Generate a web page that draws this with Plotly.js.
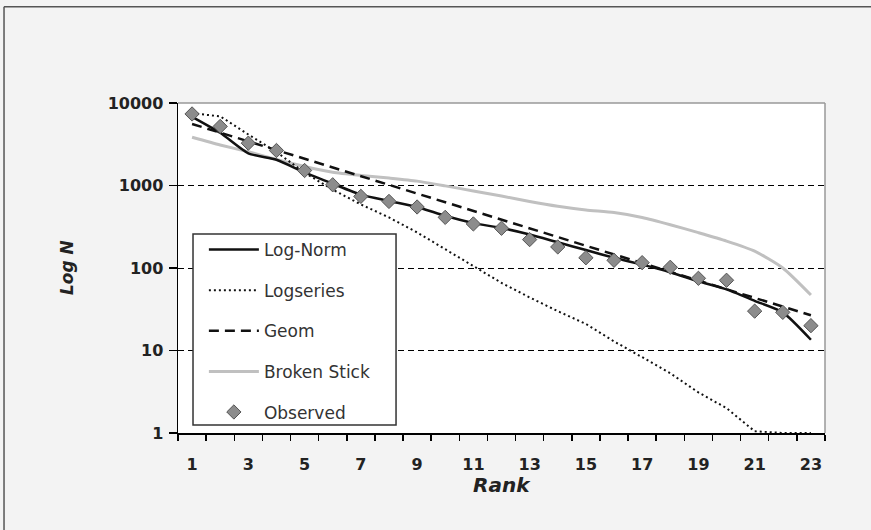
<!DOCTYPE html>
<html><head><meta charset="utf-8">
<script src="https://cdn.plot.ly/plotly-3.0.1.min.js"></script>
<style>html,body{margin:0;padding:0;background:#f3f3f3;} #chart{width:871px;height:530px;}</style>
</head><body><div id="chart"></div>
<script>
const ranks = [1,2,3,4,5,6,7,8,9,10,11,12,13,14,15,16,17,18,19,20,21,22,23];
const observed = [7365,5200,3260,2655,1520,1020,738,641,549,411,342,303,221,180,133,124,116,102,75,71,30,29,20];
const logNorm = [6800,4350,2450,2050,1440,1050,775,650,550,430,350,305,255,205,165,133,110,89,69,55,40,29,13.5];
const logSeries = [7500,6900,4150,2550,1430,890,590,410,270,170,105,66,44,30,21,12.9,8.3,5.3,3.1,2.0,1.05,1,1];
const geom = [5570,4370,3430,2690,2110,1655,1300,1020,800,627,491,385,302,237,186,146,114,90,70,55,43,34,26.7];
const brokenStick = [3850,3100,2560,2070,1700,1450,1325,1230,1130,990,860,745,640,560,505,470,410,335,268,212,160,100,47];
const seriesNames = ['Log-Norm','Logseries','Geom','Broken Stick','Observed'];
const xTickVals = [1,3,5,7,9,11,13,15,17,19,21,23];
const xTickText = ['1','3','5','7','9','11','13','15','17','19','21','23'];
const yTickVals = [1,10,100,1000,10000];
const yTickText = ['1','10','100','1000','10000'];

const FONT = 'DejaVu Sans, Verdana, sans-serif';
function lineTrace(y, name, line, i) {
  return {x: ranks, y: y, name: name, type: 'scatter', mode: 'lines', line: line,
          legendgroup: 'g' + i, hoverinfo: 'x+y+name'};
}
const traces = [
  lineTrace(brokenStick, seriesNames[3], {color: '#c0c0c0', width: 3, shape: 'spline', smoothing: 0.6}, 3),
  lineTrace(logSeries, seriesNames[1], {color: '#111', width: 2, dash: '2px,3px'}, 1),
  lineTrace(geom, seriesNames[2], {color: '#111', width: 2.5, dash: '10px,6px'}, 2),
  lineTrace(logNorm, seriesNames[0], {color: '#111', width: 2.5, shape: 'spline', smoothing: 0.6}, 0),
  {x: ranks, y: observed, name: seriesNames[4], type: 'scatter', mode: 'markers', legendgroup: 'g4',
   marker: {symbol: 'diamond', size: 11, color: '#8c8c8c', line: {color: '#555', width: 1}}}
];
traces[0].legendrank = 4; traces[1].legendrank = 2; traces[2].legendrank = 3; traces[3].legendrank = 1; traces[4].legendrank = 5;

const layout = {
  width: 871, height: 530,
  margin: {l: 178, r: 46, t: 103, b: 97},
  paper_bgcolor: '#f3f3f3', plot_bgcolor: '#ffffff',
  font: {family: FONT, color: '#222'},
  showlegend: true,
  legend: {x: 0.040, xanchor: 'left', y: 0.609, yanchor: 'top', bgcolor: 'rgba(0,0,0,0)', borderwidth: 0,
           font: {family: FONT, size: 17, color: '#333'}, traceorder: 'grouped', tracegroupgap: 15.5, itemwidth: 50},
  xaxis: {range: [0.5, 23.5], tickmode: 'array', tickvals: xTickVals, ticktext: xTickText,
          ticks: 'outside', ticklen: 6, tickcolor: 'rgba(0,0,0,0)', ticklabelstandoff: 10,
          minor: {tick0: 0.5, dtick: 1, ticks: 'outside', ticklen: 6, tickcolor: '#000', tickwidth: 1.5, showgrid: false},
          showline: true, linecolor: '#000', linewidth: 1.5, showgrid: false, zeroline: false, fixedrange: true,
          tickfont: {family: FONT, size: 16, weight: 'bold', color: '#222'}},
  yaxis: {type: 'log', range: [0, 4], tickmode: 'array', tickvals: yTickVals, ticktext: yTickText,
          ticks: 'outside', ticklen: 8, tickwidth: 1.5, tickcolor: '#000', ticklabelstandoff: 2,
          showline: true, linecolor: '#000', linewidth: 1.5, showgrid: true, gridcolor: '#000', gridwidth: 1,
          griddash: '6px,4px', zeroline: false, fixedrange: true,
          tickfont: {family: FONT, size: 16, weight: 'bold', color: '#222'}},
  shapes: [
    {type: 'rect', xref: 'paper', yref: 'paper', x0: 0.0232, x1: 0.337, y0: 0.024, y1: 0.603, layer: 'above',
     fillcolor: '#ffffff', line: {color: '#333', width: 1.5}},
    {type: 'line', xref: 'paper', yref: 'paper', x0: 0, x1: 1, y0: 1, y1: 1, layer: 'above', line: {color: '#999', width: 1.5}},
    {type: 'line', xref: 'paper', yref: 'paper', x0: 1, x1: 1, y0: 0, y1: 1, layer: 'above', line: {color: '#999', width: 1.5}},
    {type: 'line', xref: 'paper', yref: 'paper', x0: -0.2689, x1: 1.2, y0: 1.292, y1: 1.292, layer: 'below',
     line: {color: '#555', width: 1.5}},
    {type: 'line', xref: 'paper', yref: 'paper', x0: -0.2689, x1: -0.2689, y0: -0.4, y1: 1.292, layer: 'below',
     line: {color: '#555', width: 1.5}}
  ],
  annotations: [
    {text: 'Log N', xref: 'paper', yref: 'paper', x: -0.19, y: 0.5, textangle: -90, showarrow: false,
     font: {family: FONT, size: 17, weight: 'bold', style: 'italic', color: '#222'}},
    {text: 'Rank', xref: 'paper', yref: 'paper', x: 0.5, y: -0.2, showarrow: false,
     font: {family: FONT, size: 20, weight: 'bold', style: 'italic', color: '#222'}}
  ]
};
Plotly.newPlot('chart', traces, layout, {displayModeBar: false, staticPlot: true});
</script></body></html>
